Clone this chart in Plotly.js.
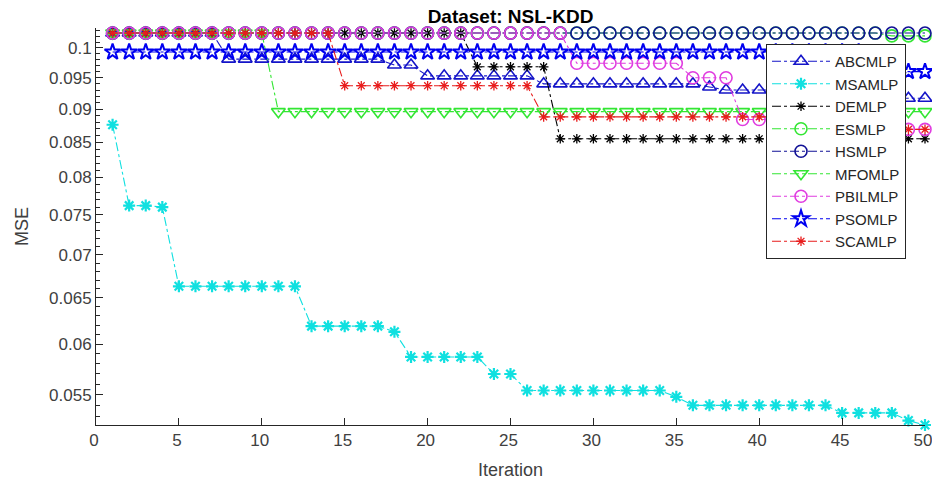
<!DOCTYPE html>
<html>
<head>
<meta charset="utf-8">
<script src="https://cdn.plot.ly/plotly-3.0.1.min.js"></script>
<style>html,body{margin:0;padding:0;background:#fff;}#chart{width:932px;height:484px;}</style>
</head>
<body>
<div id="chart"></div>
<script>
const iterations = [1,2,3,4,5,6,7,8,9,10,11,12,13,14,15,16,17,18,19,20,21,22,23,24,25,26,27,28,29,30,31,32,33,34,35,36,37,38,39,40,41,42,43,44,45,46,47,48,49,50];

const ABCMLP = [0.1026,0.1026,0.1026,0.1026,0.1026,0.1026,0.1026,
  0.0981,0.0981,0.0981,0.0981,0.0981,0.0981,0.0981,0.0981,0.0981,0.0981,
  0.0971,0.0971,
  0.0953,0.0953,0.0953,0.0953,0.0953,0.0953,0.0953,
  0.0940,0.0940,0.0940,0.0940,0.0940,0.0940,0.0940,0.0940,0.0940,0.0940,
  0.0935,
  0.0930,0.0930,0.0930,0.0930,0.0930,0.0930,0.0930,
  0.0917,0.0917,0.0917,0.0917,0.0917,0.0917];

const MSAMLP = [0.0876,0.0762,0.0762,0.0760,
  0.0663,0.0663,0.0663,0.0663,0.0663,0.0663,0.0663,0.0663,
  0.0619,0.0619,0.0619,0.0619,0.0619,0.0613,
  0.0587,0.0587,0.0587,0.0587,0.0587,
  0.0570,0.0570,
  0.0554,0.0554,0.0554,0.0554,0.0554,0.0554,0.0554,0.0554,0.0554,
  0.0548,
  0.0540,0.0540,0.0540,0.0540,0.0540,0.0540,0.0540,0.0540,0.0540,
  0.0533,0.0533,0.0533,0.0533,0.0526,0.0522];

const DEMLP = [0.1026,0.1026,0.1026,0.1026,0.1026,0.1026,0.1026,0.1026,0.1026,0.1026,
  0.1026,0.1026,0.1026,0.1026,0.1026,0.1026,0.1026,0.1026,0.1026,0.1026,0.1026,0.1026,
  0.0968,0.0968,0.0968,0.0968,0.0968,
  0.0855,0.0855,0.0855,0.0855,0.0855,0.0855,0.0855,0.0855,0.0855,0.0855,0.0855,0.0855,
  0.0855,0.0855,0.0855,0.0855,0.0855,0.0855,0.0855,0.0855,0.0855,0.0855,0.0855];

const ESMLP = [0.1026,0.1026,0.1026,0.1026,0.1026,0.1026,0.1026,0.1026,0.1026,0.1026,
  0.1026,0.1026,0.1026,0.1026,0.1026,0.1026,0.1026,0.1026,0.1026,0.1026,
  0.1026,0.1026,0.1026,0.1026,0.1026,0.1026,0.1026,0.1026,0.1026,0.1026,
  0.1026,0.1026,0.1026,0.1026,0.1026,0.1026,0.1026,0.1026,0.1026,0.1026,
  0.1026,0.1026,0.1026,0.1026,0.1026,0.1026,0.1026,0.1021,0.1021,0.1021];

const HSMLP = [0.1026,0.1026,0.1026,0.1026,0.1026,0.1026,0.1026,0.1026,0.1026,0.1026,
  0.1026,0.1026,0.1026,0.1026,0.1026,0.1026,0.1026,0.1026,0.1026,0.1026,
  0.1026,0.1026,0.1026,0.1026,0.1026,0.1026,0.1026,0.1026,0.1026,0.1026,
  0.1026,0.1026,0.1026,0.1026,0.1026,0.1026,0.1026,0.1026,0.1026,0.1026,
  0.1026,0.1026,0.1026,0.1026,0.1026,0.1026,0.1026,0.1026,0.1026,0.1026];

const MFOMLP = [0.1026,0.1026,0.1026,0.1026,0.1026,0.1026,0.1026,0.1026,0.1026,0.1026,
  0.0896,0.0896,0.0896,0.0896,0.0896,0.0896,0.0896,0.0896,0.0896,0.0896,
  0.0896,0.0896,0.0896,0.0896,0.0896,0.0896,0.0896,0.0896,0.0896,0.0896,
  0.0896,0.0896,0.0896,0.0896,0.0896,0.0896,0.0896,0.0896,0.0896,0.0896,
  0.0896,0.0896,0.0896,0.0896,0.0896,0.0896,0.0896,0.0896,0.0896,0.0896];

const PBILMLP = [0.1026,0.1026,0.1026,0.1026,0.1026,0.1026,0.1026,0.1026,0.1026,0.1026,
  0.1026,0.1026,0.1026,0.1026,0.1026,0.1026,0.1026,0.1026,0.1026,0.1026,
  0.1026,0.1026,0.1026,0.1026,0.1026,0.1026,0.1026,0.1026,
  0.0974,0.0974,0.0974,0.0974,0.0974,0.0974,0.0974,
  0.0950,0.0950,0.0950,
  0.0884,0.0884,0.0884,0.0884,
  0.0869,0.0869,0.0869,0.0869,0.0869,0.0869,0.0869,0.0869];

const PSOMLP = [0.0993,0.0993,0.0993,0.0993,0.0993,0.0993,0.0993,0.0993,0.0993,0.0993,
  0.0993,0.0993,0.0993,0.0993,0.0993,0.0993,0.0993,0.0993,0.0993,0.0993,
  0.0993,0.0993,0.0993,0.0993,0.0993,0.0993,0.0993,0.0993,0.0993,0.0993,
  0.0993,0.0993,0.0993,0.0993,0.0993,0.0993,0.0993,0.0993,0.0993,0.0993,
  0.0993,0.0993,0.0993,0.0993,0.0993,0.0993,0.0960,0.0960,0.0960,0.0960];

const SCAMLP = [0.1026,0.1026,0.1026,0.1026,0.1026,0.1026,0.1026,0.1026,0.1026,0.1026,
  0.1026,0.1026,0.1026,0.1026,
  0.0937,0.0937,0.0937,0.0937,0.0937,0.0937,0.0937,0.0937,0.0937,0.0937,0.0937,0.0937,
  0.0888,0.0888,0.0888,0.0888,0.0888,0.0888,0.0888,0.0888,0.0888,0.0888,0.0888,0.0888,
  0.0888,0.0888,0.0888,0.0888,
  0.0869,0.0869,0.0869,0.0869,0.0869,0.0869,0.0869,0.0869];

const xTickVals = [0,5,10,15,20,25,30,35,40,45,50];

const FONT = 'Liberation Sans, Arial, Helvetica, sans-serif';
const AXC = '#262626';

const seriesDefs = [
  {name:'ABCMLP', y:ABCMLP, color:'#1414c8', symbol:'triangle-up-open', size:12, lw:1.6},
  {name:'MSAMLP', y:MSAMLP, color:'#10e0e0', symbol:'asterisk-open', size:10, lw:2.2},
  {name:'DEMLP', y:DEMLP, color:'#000000', symbol:'asterisk-open', size:8, lw:1.3},
  {name:'ESMLP', y:ESMLP, color:'#33e633', symbol:'circle-open', size:12, lw:1.6},
  {name:'HSMLP', y:HSMLP, color:'#121296', symbol:'circle-open', size:12, lw:1.6},
  {name:'MFOMLP', y:MFOMLP, color:'#33e633', symbol:'triangle-down-open', size:12, lw:1.6},
  {name:'PBILMLP', y:PBILMLP, color:'#e03ce0', symbol:'circle-open', size:12, lw:1.6},
  {name:'PSOMLP', y:PSOMLP, color:'#0000f0', symbol:'star-open', size:12, lw:2},
  {name:'SCAMLP', y:SCAMLP, color:'#e81c1c', symbol:'asterisk-open', size:8, lw:1.3}
];

const traces = seriesDefs.map(s => ({
  type:'scatter', mode:'lines+markers', name:s.name,
  x: iterations, y: s.y, cliponaxis:false,
  line:{color:s.color, width:1.1, dash:'dashdot'},
  marker:{symbol:s.symbol, size:s.size, color:s.color, line:{color:s.color, width:s.lw}}
}));

const layout = {
  width:932, height:484,
  margin:{l:96, r:7, t:28, b:59, autoexpand:false},
  paper_bgcolor:'#ffffff', plot_bgcolor:'#ffffff',
  font:{family:FONT, color:AXC, size:16},
  showlegend:true,
  title:{text:'<b>Dataset: NSL-KDD</b>', font:{family:FONT, size:19, color:'#000000'},
         x:0.5, xref:'paper', y:1-16/484, yref:'container', yanchor:'middle'},
  xaxis:{
    range:[0,50], tickmode:'array', tickvals:xTickVals,
    ticks:'inside', ticklen:7, tickwidth:1, tickcolor:AXC,
    showline:true, linecolor:AXC, linewidth:1, mirror:false,
    showgrid:false, zeroline:false, ticklabeloverflow:'allow', ticklabelshift:-2,
    tickfont:{family:FONT, size:17, color:'#404040'},
    title:{text:'Iteration', font:{family:FONT, size:18, color:'#404040'}, standoff:13}
  },
  yaxis:{
    type:'log', range:[Math.log10(0.0522), Math.log10(0.1035)],
    tick0:0.05, dtick:'L0.005',
    ticks:'inside', ticklen:7, tickwidth:1, tickcolor:AXC,
    minor:{tick0:0.05, dtick:'L0.001', ticks:'inside', ticklen:4, tickcolor:AXC, showgrid:false},
    showline:true, linecolor:AXC, linewidth:1, mirror:false,
    showgrid:false, zeroline:false,
    tickfont:{family:FONT, size:17, color:'#404040'},
    title:{text:'MSE', font:{family:FONT, size:18, color:'#404040'}, standoff:15}
  },
  legend:{
    x:(906-96)/829, xanchor:'right',
    y:1-44/484, yref:'container', yanchor:'top',
    bgcolor:'#ffffff', bordercolor:'#262626', borderwidth:1,
    font:{family:FONT, size:15, color:'#262626'},
    itemwidth:58, tracegroupgap:0
  }
};

Plotly.newPlot('chart', traces, layout, {staticPlot:true, displayModeBar:false});
</script>
</body>
</html>
